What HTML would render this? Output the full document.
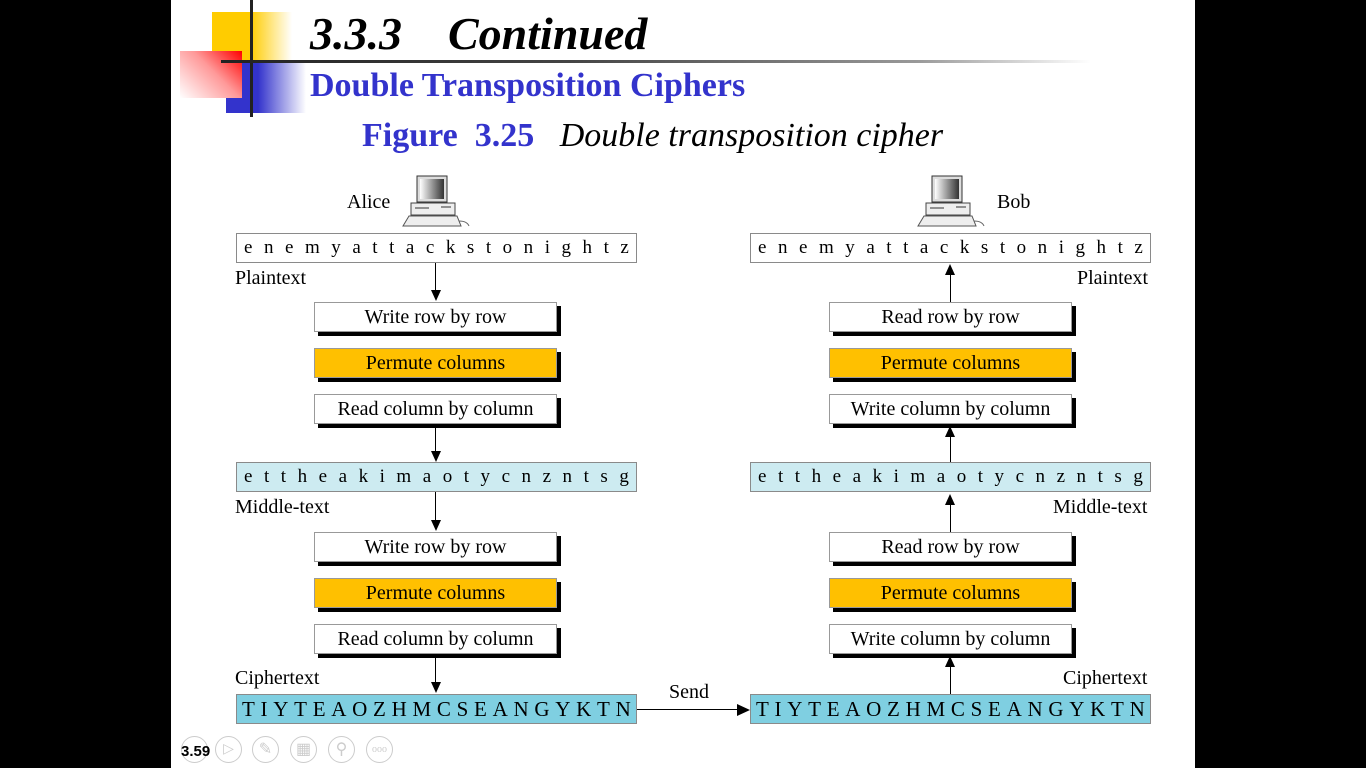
<!DOCTYPE html>
<html><head><meta charset="utf-8">
<style>
*{margin:0;padding:0;box-sizing:border-box}
body{width:1366px;height:768px;background:#000;position:relative;overflow:hidden;font-family:"Liberation Serif",serif}
#slide{position:absolute;left:171px;top:0;width:1024px;height:768px;background:#fff}
.a{position:absolute}
.t{position:absolute;white-space:nowrap;color:#000}
.strip{position:absolute;height:30px;border:1px solid #8a8a8a;display:flex;justify-content:space-between;align-items:center;padding:0 7px;font-size:19px}
.box{position:absolute;width:243px;height:30px;border:1px solid #999;background:#fff;box-shadow:4px 4px 0 #000;font-size:20px;text-align:center;line-height:28px}
.or{background:#ffc000}
.mid{background:#cdebf1}
.ci{background:#7fcfe1;font-size:21px}
.vl{position:absolute;width:1px;background:#000}
.ad{position:absolute;width:0;height:0;border-left:5px solid transparent;border-right:5px solid transparent;border-top:11px solid #000}
.au{position:absolute;width:0;height:0;border-left:5px solid transparent;border-right:5px solid transparent;border-bottom:11px solid #000}
.lbl{position:absolute;font-size:20px;white-space:nowrap}
.ic{position:absolute;top:736px;width:27px;height:27px;border:1px solid #ccc;border-radius:50%}
</style></head><body>
<div id="slide"></div>

<div class="a" style="left:212px;top:12px;width:80px;height:50px;background:linear-gradient(90deg,#ffcc00 0,#ffcc00 48%,#fff 100%)"></div>
<div class="a" style="left:226px;top:61px;width:80px;height:52px;background:linear-gradient(90deg,#3333cc 0,#3333cc 40%,#fff 100%)"></div>
<div class="a" style="left:180px;top:51px;width:62px;height:47px;background:linear-gradient(225deg,#ff0000 0,#ff9999 45%,#fff 100%)"></div>
<div class="a" style="left:250px;top:0;width:3px;height:117px;background:#222"></div>
<div class="a" style="left:221px;top:60px;width:870px;height:3px;background:linear-gradient(90deg,#222 0,#444 40%,#999 80%,#fff 100%)"></div>

<div class="t" style="left:310px;top:7px;font-size:46px;font-weight:bold;font-style:italic">3.3.3&nbsp;&nbsp;&nbsp;&nbsp;Continued</div>
<div class="t" style="left:310px;top:67px;font-size:34px;font-weight:bold;color:#3333cc">Double Transposition Ciphers</div>
<div class="t" style="left:362px;top:117px;font-size:34px"><b style="color:#3333cc">Figure&nbsp; 3.25</b>&nbsp;&nbsp; <i>Double transposition cipher</i></div>

<svg class="a" style="left:401px;top:175px" width="70" height="54" viewBox="0 0 70 54">
<defs><linearGradient id="g" x1="0" x2="1"><stop offset="0" stop-color="#fff"/><stop offset="1" stop-color="#333"/></linearGradient></defs>
<rect x="16" y="1" width="30" height="26" fill="#ddd" stroke="#333"/><rect x="19" y="4" width="24" height="20" fill="url(#g)"/>
<rect x="10" y="28" width="44" height="12" fill="#eee" stroke="#444"/><line x1="14" y1="33" x2="28" y2="33" stroke="#333"/><line x1="40" y1="32" x2="50" y2="32" stroke="#333"/>
<polygon points="8,41 56,41 60,51 2,51" fill="#eee" stroke="#555"/><path d="M58 46 q8 0 10 5" stroke="#666" fill="none"/></svg>
<svg class="a" style="left:916px;top:175px" width="70" height="54" viewBox="0 0 70 54">
<rect x="16" y="1" width="30" height="26" fill="#ddd" stroke="#333"/><rect x="19" y="4" width="24" height="20" fill="url(#g)"/>
<rect x="10" y="28" width="44" height="12" fill="#eee" stroke="#444"/><line x1="14" y1="33" x2="28" y2="33" stroke="#333"/><line x1="40" y1="32" x2="50" y2="32" stroke="#333"/>
<polygon points="8,41 56,41 60,51 2,51" fill="#eee" stroke="#555"/><path d="M58 46 q8 0 10 5" stroke="#666" fill="none"/></svg>
<div class="lbl" style="left:347px;top:191px">Alice</div>
<div class="lbl" style="left:997px;top:191px">Bob</div>

<div class="strip" data-s="enemyattackstonightz" style="left:236px;top:233px;width:401px"></div>
<div class="strip" data-s="enemyattackstonightz" style="left:750px;top:233px;width:401px"></div>
<div class="strip mid" data-s="ettheakimaotycnzntsg" style="left:236px;top:462px;width:401px"></div>
<div class="strip mid" data-s="ettheakimaotycnzntsg" style="left:750px;top:462px;width:401px"></div>
<div class="strip ci" data-s="TIYTEAOZHMCSEANGYKTN" style="left:236px;top:694px;width:401px;padding:0 5px"></div>
<div class="strip ci" data-s="TIYTEAOZHMCSEANGYKTN" style="left:750px;top:694px;width:401px;padding:0 5px"></div>

<div class="lbl" style="left:235px;top:267px">Plaintext</div>
<div class="lbl" style="left:1077px;top:267px">Plaintext</div>
<div class="lbl" style="left:235px;top:496px">Middle-text</div>
<div class="lbl" style="left:1053px;top:496px">Middle-text</div>
<div class="lbl" style="left:235px;top:667px">Ciphertext</div>
<div class="lbl" style="left:1063px;top:667px">Ciphertext</div>
<div class="lbl" style="left:669px;top:681px">Send</div>

<div class="box" style="left:314px;top:302px">Write row by row</div>
<div class="box or" style="left:314px;top:348px">Permute columns</div>
<div class="box" style="left:314px;top:394px">Read column by column</div>
<div class="box" style="left:314px;top:532px">Write row by row</div>
<div class="box or" style="left:314px;top:578px">Permute columns</div>
<div class="box" style="left:314px;top:624px">Read column by column</div>
<div class="box" style="left:829px;top:302px">Read row by row</div>
<div class="box or" style="left:829px;top:348px">Permute columns</div>
<div class="box" style="left:829px;top:394px">Write column by column</div>
<div class="box" style="left:829px;top:532px">Read row by row</div>
<div class="box or" style="left:829px;top:578px">Permute columns</div>
<div class="box" style="left:829px;top:624px">Write column by column</div>

<div class="vl" style="left:435px;top:263px;height:30px"></div><div class="ad" style="left:431px;top:290px"></div>
<div class="vl" style="left:435px;top:424px;height:30px"></div><div class="ad" style="left:431px;top:451px"></div>
<div class="vl" style="left:435px;top:492px;height:30px"></div><div class="ad" style="left:431px;top:520px"></div>
<div class="vl" style="left:435px;top:654px;height:30px"></div><div class="ad" style="left:431px;top:682px"></div>
<div class="au" style="left:945px;top:264px"></div><div class="vl" style="left:950px;top:272px;height:30px"></div>
<div class="au" style="left:945px;top:426px"></div><div class="vl" style="left:950px;top:434px;height:28px"></div>
<div class="au" style="left:945px;top:494px"></div><div class="vl" style="left:950px;top:502px;height:30px"></div>
<div class="au" style="left:945px;top:656px"></div><div class="vl" style="left:950px;top:664px;height:30px"></div>
<div class="a" style="left:637px;top:709px;width:102px;height:1px;background:#000"></div>
<div class="a" style="left:737px;top:704px;width:0;height:0;border-top:6px solid transparent;border-bottom:6px solid transparent;border-left:13px solid #000"></div>

<div class="ic" style="left:181px"></div>
<div class="ic" style="left:215px;color:#ccc;font-size:14px;text-align:center;line-height:25px">▷</div>
<div class="ic" style="left:252px;color:#ccc;text-align:center;line-height:25px">✎</div>
<div class="ic" style="left:290px;color:#ccc;text-align:center;line-height:25px">▦</div>
<div class="ic" style="left:328px;color:#ccc;text-align:center;line-height:25px">⚲</div>
<div class="ic" style="left:366px;color:#ccc;font-size:10px;text-align:center;line-height:25px">ooo</div>
<div class="t" style="left:181px;top:743px;font-family:'Liberation Sans',sans-serif;font-weight:bold;font-size:15px">3.59</div>

<script>
document.querySelectorAll('.strip').forEach(function(s){
  var str=s.getAttribute('data-s');
  for(var i=0;i<str.length;i++){
    var sp=document.createElement('span');
    
    
    sp.textContent=str[i];
    s.appendChild(sp);
  }
});
</script>
</body></html>
